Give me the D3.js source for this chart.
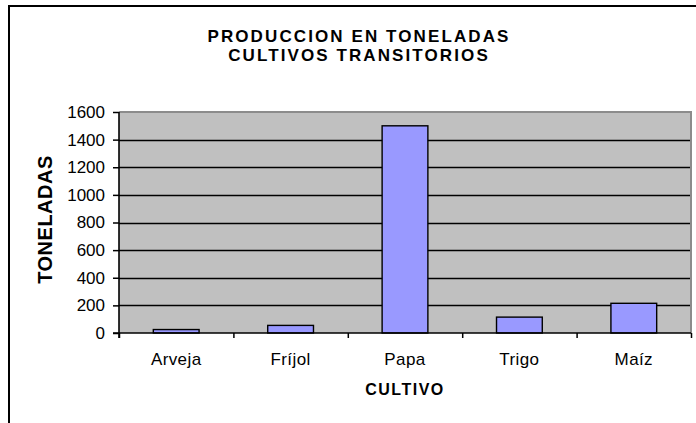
<!DOCTYPE html>
<html>
<head>
<meta charset="utf-8">
<script src="https://cdn.jsdelivr.net/npm/d3@7"></script>
<style>
  body { margin: 0; background: #fff; }
  svg { display: block; font-family: "Liberation Sans", Arial, sans-serif; }
</style>
</head>
<body>
<div class="chart"></div>
<script>
var cultivos = ['Arveja', 'Fríjol', 'Papa', 'Trigo', 'Maíz'];
var toneladas = [25, 55, 1500, 115, 215];
var yTicks = [0, 200, 400, 600, 800, 1000, 1200, 1400, 1600];
var titulo = ['PRODUCCION EN TONELADAS', 'CULTIVOS TRANSITORIOS'];

var width = 696, height = 423;
var m = { left: 119, right: 691, top: 112, bottom: 333 };
var fuente = '"Liberation Sans", Arial, sans-serif';

var svg = d3.select('.chart')
  .append('svg')
  .attr('width', width)
  .attr('height', height);

// marco exterior (solo se ven arriba e izquierda)
svg.append('rect')
  .attr('x', 9)
  .attr('y', 6)
  .attr('width', 800)
  .attr('height', 600)
  .attr('fill', 'none')
  .attr('stroke', '#000')
  .attr('stroke-width', 2);

var x = d3.scaleBand()
  .domain(cultivos)
  .range([m.left, m.right])
  .paddingInner(0.6)
  .paddingOuter(0.3);

var xEdges = d3.scaleLinear()
  .domain([0, cultivos.length])
  .range([m.left, m.right]);

var y = d3.scaleLinear()
  .domain([0, 1600])
  .range([m.bottom, m.top]);

// fondo del area de trazado
svg.append('rect')
  .attr('x', m.left)
  .attr('y', m.top)
  .attr('width', m.right - m.left)
  .attr('height', m.bottom - m.top)
  .attr('fill', '#c0c0c0');

svg.append('path')
  .attr('d', 'M' + m.left + ',' + m.top + 'H' + m.right + 'V' + m.bottom)
  .attr('fill', 'none')
  .attr('stroke', '#8c8c8c')
  .attr('stroke-width', 2);

// lineas de division
svg.append('g')
  .selectAll('line')
  .data(yTicks.filter(function(d){ return d > 0 && d < 1600; }))
  .enter().append('line')
  .attr('x1', m.left)
  .attr('x2', m.right - 1)
  .attr('y1', function(d){ return Math.round(y(d)) + 0.5; })
  .attr('y2', function(d){ return Math.round(y(d)) + 0.5; })
  .attr('stroke', '#000')
  .attr('stroke-width', 1.3);

// barras
svg.append('g')
  .selectAll('rect')
  .data(toneladas)
  .enter().append('rect')
  .attr('x', function(d, i){ return x(cultivos[i]); })
  .attr('y', function(d){ return y(d); })
  .attr('width', x.bandwidth())
  .attr('height', function(d){ return y(0) - y(d); })
  .attr('fill', '#9999ff')
  .attr('stroke', '#000')
  .attr('stroke-width', 1.4);

// eje y
var yAxis = svg.append('g')
  .attr('transform', 'translate(' + m.left + ',0)')
  .call(d3.axisLeft(y).tickValues(yTicks).tickFormat(d3.format('d')).tickSize(6).tickPadding(8));
yAxis.select('.domain').remove();
yAxis.selectAll('line').attr('stroke-width', 1.5);
yAxis.selectAll('text')
  .attr('font-size', 17)
  .attr('fill', '#000')
  .style('font-family', fuente);

svg.append('line')
  .attr('x1', m.left).attr('x2', m.left)
  .attr('y1', m.top).attr('y2', m.bottom + 5)
  .attr('stroke', '#000').attr('stroke-width', 1.6);

// eje x
var xTickAxis = svg.append('g')
  .attr('transform', 'translate(0,' + m.bottom + ')')
  .call(d3.axisBottom(xEdges).ticks(5).tickSize(5).tickFormat(''));
xTickAxis.select('.domain').remove();
xTickAxis.selectAll('line').attr('stroke-width', 1.5);

svg.append('line')
  .attr('x1', m.left - 6).attr('x2', m.right)
  .attr('y1', m.bottom).attr('y2', m.bottom)
  .attr('stroke', '#000').attr('stroke-width', 1.6);

var xAxis = svg.append('g')
  .attr('transform', 'translate(0,' + m.bottom + ')')
  .call(d3.axisBottom(x).tickSize(0).tickPadding(20));
xAxis.select('.domain').remove();
xAxis.selectAll('text')
  .attr('font-size', 17)
  .attr('fill', '#000')
  .attr('letter-spacing', 0.4)
  .style('font-family', fuente);

// titulos
svg.append('g')
  .selectAll('text')
  .data(titulo)
  .enter().append('text')
  .attr('x', 359)
  .attr('y', function(d, i){ return 42 + i * 19; })
  .attr('text-anchor', 'middle')
  .attr('font-size', 17)
  .attr('font-weight', 'bold')
  .attr('letter-spacing', 2.1)
  .text(function(d){ return d; });

svg.append('text')
  .attr('x', (m.left + m.right) / 2)
  .attr('y', 395)
  .attr('text-anchor', 'middle')
  .attr('font-size', 16)
  .attr('font-weight', 'bold')
  .attr('letter-spacing', 1.5)
  .text('CULTIVO');

svg.append('text')
  .attr('transform', 'translate(52,' + ((m.top + m.bottom) / 2 - 3) + ') rotate(-90)')
  .attr('text-anchor', 'middle')
  .attr('font-size', 20)
  .attr('font-weight', 'bold')
  .attr('letter-spacing', 0.5)
  .text('TONELADAS');
</script>
</body>
</html>
